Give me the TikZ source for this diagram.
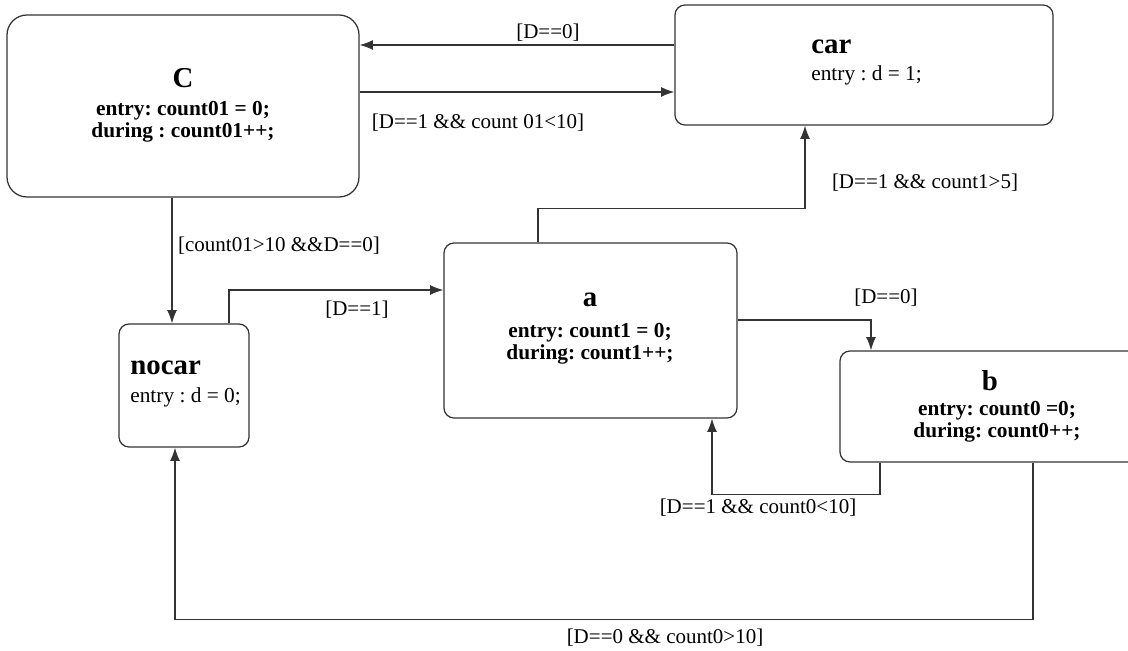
\documentclass[tikz,border=0pt]{standalone}
\usepackage{fontspec}
\setmainfont{Liberation Serif}
\usetikzlibrary{arrows.meta,calc}
\frenchspacing

\begin{document}
\begin{tikzpicture}[x=0.6pt,y=-0.6pt,
		%Option for nice arrows%
		>={Latex[length=8pt,width=6pt]},%
		line/.style={draw=black!80,line width=0.75pt},%
		state/.style={line,rounded corners=6pt,inner sep=0pt},%
		title/.style={font=\fontsize{17.3}{18}\selectfont\bfseries,inner sep=0pt},%
		body/.style={font=\fontsize{12.8}{13.2}\selectfont,inner sep=0pt,align=center},%
		lbl/.style={font=\fontsize{12.6}{13.2}\selectfont,inner sep=0pt}%
		]
		%% page size
		\useasboundingbox (0,0) rectangle (1128,651);
		\clip (0,0) rectangle (1128,651);
		%% states
		\node[state,rounded corners=12pt,minimum width=352*0.6pt,minimum height=182*0.6pt] (C) at (183,106) {};
		\node[state,minimum width=378*0.6pt,minimum height=120*0.6pt] (car) at (864,65) {};
		\node[state,minimum width=130*0.6pt,minimum height=123*0.6pt] (nocar) at (184,385.5) {};
		\node[state,minimum width=293*0.6pt,minimum height=175*0.6pt] (a) at (590.5,330.5) {};
		\node[state,minimum width=300*0.6pt,minimum height=111*0.6pt] (b) at (990,406.5) {};
		%% state texts
		\node[title] (Ct) at (183,78) {C};
		\node[body,font=\fontsize{12.8}{13.2}\selectfont\bfseries] (Cb) at (183,122) {entry: count01 = 0;\\during : count01++;};
		\node[title,anchor=west] (cart) at (811,47) {car};
		\node[body,anchor=west] (carb) at (811,75) {entry : d = 1;};
		\node[title,anchor=west] (nocart) at (130,368) {nocar};
		\node[body,anchor=west] (nocarb) at (130,397) {entry : d = 0;};
		\node[title] (at) at (590,300) {a};
		\node[body,font=\fontsize{12.8}{13.2}\selectfont\bfseries] (ab) at (590,344) {entry: count1 = 0;\\during: count1++;};
		\node[title] (bt) at (990,381) {b};
		\node[body,font=\fontsize{12.8}{13.2}\selectfont\bfseries] (bb) at (997,422) {entry: count0 =0;\\during: count0++;};
		%% transitions
		\draw[line,->] (car.west |- 0,45) -- (C.east |- 0,45);
		\draw[line,->] (C.east |- 0,92) -- (car.west |- 0,92);
		\draw[line,->] (C.south -| 172,0) -- (nocar.north -| 172,0);
		\draw[line,->] (nocar.north -| 229,0) |- (a.west |- 0,290);
		\draw[line,->] (a.north -| 538,0) -- ++(0,-34) -| (car.south -| 805,0);
		\draw[line,->] (a.east |- 0,320) -| (b.north -| 871,0);
		\draw[line,->] (b.south -| 880,0) -- ++(0,32) -| (a.south -| 712,0);
		\draw[line,->] (b.south -| 1033,0) -- ++(0,157) -| (nocar.south -| 175,0);
		%% guards
		\node[lbl] (g1) at (548,33) {[D==0]};
		\node[lbl] (g2) at (478,123) {[D==1 \&\& count 01<10]};
		\node[lbl] (g3) at (279,246) {[count01>10 \&\&D==0]};
		\node[lbl] (g4) at (357,310) {[D==1]};
		\node[lbl] (g5) at (925,183) {[D==1 \&\& count1>5]};
		\node[lbl] (g6) at (886,298) {[D==0]};
		\node[lbl] (g7) at (758,508) {[D==1 \&\& count0<10]};
		\node[lbl] (g8) at (665,638) {[D==0 \&\& count0>10]};

	\end{tikzpicture}
\end{document}
